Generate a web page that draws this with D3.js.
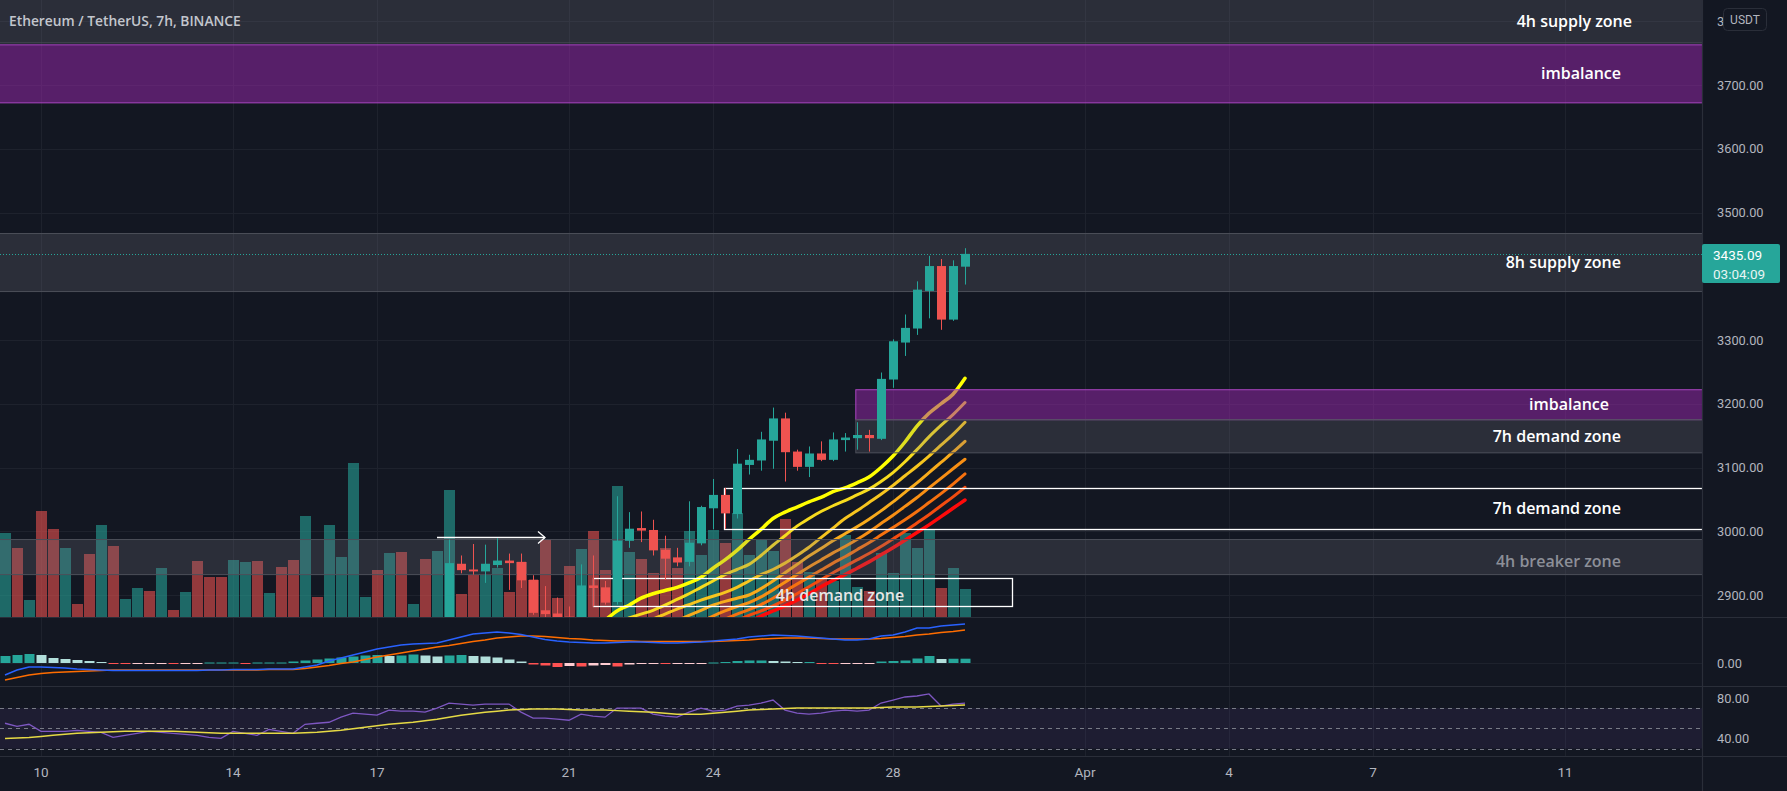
<!DOCTYPE html>
<html>
<head>
<meta charset="utf-8">
<title>ETHUSDT 7h</title>
<script src="https://cdn.jsdelivr.net/npm/d3@7"></script>
<style>
  body { margin:0; padding:0; background:#131722; overflow:hidden; }
  svg { display:block; }
  .axis text { fill:#b2b5be; font-family:Roboto, "Liberation Sans", sans-serif; font-size:12.8px; }
  .axis path, .axis line { display:none; }
  .zonelabel { font-family:"Open Sans", sans-serif; font-weight:600; font-size:16px; }
</style>
</head>
<body>
<svg id="chart" width="1787" height="791"></svg>
<script>

// ---- candles (7h) ----
var opens = [2590,2640,2610,2625,2560,2530,2570,2560,2540,2590,
  2560,2575,2590,2575,2600,2595,2610,2585,2565,2545,
  2580,2600,2585,2600,2590,2575,2640,2625,2680,2720,
  2750,2780,2760,2790,2775,2790,2770,2850,2949,2940,
  2937,2947,2954,2952,2924,2876,2871,2866,2860,2915,
  2912,2889,2985,3005,3002,2971,2959,2952,2981,3036,
  3057,3027,3104,3111,3142,3177,3125,3101,3122,3112,
  3143,3146,3151,3145,3238,3296,3318,3377,3416,3332,3415];
var highs = [2655,2660,2640,2635,2575,2580,2585,2570,2600,2598,
  2585,2600,2598,2612,2610,2620,2615,2592,2570,2590,
  2612,2605,2610,2608,2596,2652,2648,2690,2730,2762,
  2792,2790,2800,2798,2798,2796,2858,2987,2962,2980,
  2979,2989,2965,2965,2931,2914,2896,2882,2948,2962,
  2922,3055,3030,3031,3018,2993,2974,3047,3040,3082,
  3068,3129,3120,3156,3194,3186,3128,3133,3141,3155,
  3154,3171,3159,3249,3301,3340,3392,3432,3427,3425,3444];
var lows = [2580,2600,2598,2550,2515,2522,2550,2530,2535,2550,
  2552,2568,2566,2570,2588,2590,2580,2558,2536,2540,
  2575,2578,2580,2585,2568,2570,2618,2620,2672,2712,
  2745,2752,2755,2768,2770,2762,2765,2840,2934,2932,
  2919,2943,2908,2911,2869,2860,2855,2850,2855,2882,
  2885,2885,2974,2983,2962,2924,2945,2945,2978,3003,
  3004,3020,3089,3095,3098,3078,3095,3085,3110,3110,
  3125,3128,3125,3143,3225,3275,3308,3334,3316,3330,3387];
var closes = [2640,2610,2625,2560,2530,2570,2560,2540,2590,2560,
  2575,2590,2575,2600,2595,2610,2585,2565,2545,2580,
  2600,2585,2600,2590,2575,2640,2625,2680,2720,2750,
  2780,2760,2790,2775,2790,2770,2850,2950,2939,2937,
  2949,2954,2950,2923,2872,2870,2862,2860,2915,2911,
  2888,2985,3004,3001,2970,2957,2951,2982,3038,3057,
  3028,3106,3112,3144,3177,3124,3101,3122,3112,3144,
  3147,3151,3146,3239,3298,3319,3379,3416,3332,3416,3435.09];
var volumes = [84,69,17,106,88,69,13,63,92,71,
  18,29,26,49,7,25,56,40,40,57,
  55,56,24,50,57,101,20,92,60,154,
  20,47,64,65,13,58,66,127,23,42,
  42,49,25,55,37,78,19,51,68,86,
  47,131,65,58,44,69,49,86,62,87,
  74,104,62,77,66,98,55,45,38,36,
  82,30,26,64,44,84,69,88,29,49,28];

// ---- EMA ribbon, candles 44..80 ----
var ribbonStart = 44;
var ribbon1 = [2770,2785,2800,2815,2830,2845,2860,2875,2884,2895,2902,2907,2912,2919,2928,2942,2955,2970,2987,3003,3020,3030,3038,3046,3053,3062,3068,3076,3085,3100,3118,3140,3165,3185,3200,3215,3240];
var ribbon2 = [2760,2772,2784,2800,2815,2830,2843,2855,2864,2870,2876,2884,2893,2902,2912,2922,2932,2940,2948,2962,2978,2993,3008,3020,3031,3040,3048,3057,3066,3078,3092,3109,3128,3148,3166,3183,3202];
var ribbon3 = [2740,2752,2764,2776,2788,2800,2812,2824,2836,2848,2862,2870,2878,2885,2892,2898,2904,2912,2922,2932,2940,2950,2962,2975,2990,3005,3020,3032,3045,3058,3072,3087,3102,3118,3135,3152,3171];
var ribbon4 = [2725,2737,2749,2761,2773,2785,2797,2808,2819,2830,2841,2851,2860,2868,2876,2884,2890,2895,2900,2910,2922,2935,2948,2961,2973,2985,2996,3007,3019,3032,3046,3061,3076,3092,3108,3124,3141];
var ribbon5 = [2712,2723,2734,2745,2756,2767,2778,2789,2800,2810,2820,2830,2840,2849,2858,2867,2875,2882,2888,2897,2908,2920,2932,2944,2955,2966,2976,2987,2999,3012,3025,3039,3053,3068,3083,3098,3113];
var ribbon6 = [2700,2711,2722,2733,2744,2755,2765,2775,2785,2795,2805,2815,2825,2834,2843,2852,2862,2870,2877,2885,2895,2906,2917,2928,2939,2950,2960,2971,2982,2994,3006,3018,3031,3045,3059,3074,3090];
var ribbon7 = [2690,2700,2710,2720,2730,2740,2750,2760,2770,2780,2790,2800,2810,2819,2836,2844,2852,2860,2868,2875,2883,2892,2902,2913,2924,2935,2945,2955,2965,2976,2988,3000,3013,3026,3040,3054,3069];
var ribbon8 = [2680,2690,2700,2710,2720,2730,2740,2750,2760,2770,2780,2790,2800,2810,2820,2830,2842,2850,2858,2867,2875,2883,2892,2902,2913,2923,2932,2942,2952,2963,2974,2986,2998,3010,3023,3036,3049];

// ---- MACD ----
var macdLine = [-24,-14,-8,-8,-9,-10,-12,-13,-14,-15,-15,-15,-15,-15,-15,-15,-15,-14,-14,-13,
  -13,-13,-12,-12,-12,-8,-4,4,10,16,22,28,32,36,38,39,40,46,52,58,
  60,62,60,57,52,47,44,42,41,40,40,41,42,42,41,40,40,41,42,44,
  46,48,52,54,56,55,54,52,50,48,46,46,48,54,56,62,70,70,74,76,78];
var signalLine = [-34,-29,-24,-21,-19,-18,-17,-16,-15,-14,-14,-14,-14,-14,-14,-14,-14,-14,-14,-14,
  -14,-14,-13,-13,-13,-11,-8,-5,-1,2,7,12,16,20,24,28,32,35,39,43,
  46,50,52,54,54,53,51,49,48,46,45,44,44,43,43,43,43,43,43,43,
  44,45,46,48,49,50,50,50,49,48,48,48,48,49,51,53,56,58,61,63,66];
var histogram = [14,16,18,16,10,8,6,4,2,-1,-2,-2,-1,-1,-2,-1,-1,1,1,1,
  -1,1,1,1,3,5,7,9,11,13,15,16,14,15,17,15,13,15,16,14,
  13,11,7,3,-3,-5,-8,-6,-7,-5,-4,-7,-3,-2,-1,-2,-1,-1,-1,1,
  2,4,5,5,4,3,2,2,-1,-2,-2,-2,-1,3,4,5,9,14,8,8.5,8.6];

// ---- RSI ----
var rsiLine = [55,52,54,47,47,47,48,47,46,41,43,45,47,46,45,44,43,41,40,47,
  45,43,49,47,45,54,55,56,61,65,64,63,68,67,67,66,70,75,74,73,
  74,74,74,66,60,60,59,58,64,62,61,70,70,70,64,62,61,66,70,67,
  68,72,73,75,78,68,65,64,65,67,68,67,68,75,78,81,82,84,72,74,75];
var rsiMA = [40,40.5,41,42,43,44,45,45.5,46,46.5,47,47,47,47,47,46.5,46,45.5,45,45,
  45,45,45,45,45,45.5,46,47,48,49.5,51,52.5,54,55,56,57.5,59,61,63,64.5,
  66,67,68,68.5,69,69,69,68.5,68,68,68,67.5,67,66.5,66,65,64,64,64,65,
  66,67,68,68.5,69,69.5,70,70,70,70,70,70,70,70.5,71,71,71,71.5,72,72.5,73];

// ---- zones drawn on the chart ----
var zoneNames  = ['4h supply zone','imbalance','8h supply zone','imbalance','7h demand zone','7h demand zone','4h breaker zone','4h demand zone'];
var zoneTop    = [3900, 3763, 3467, 3222, 3175, 3068, 2987, 2927];
var zoneBottom = [3766, 3672, 3376, 3175, 3123, 3003.5, 2932, 2883];
var zoneFrom   = [-3, -3, -3, 70.9, 70.9, 59.9, -3, 49];
var zoneTo     = [160, 160, 160, 160, 160, 160, 160, 83.9];
var zoneKind   = ['gray','purple','gray','purple','gray','outline','breaker','outline'];

var arrowFrom = 36, arrowTo = 45, arrowPrice = 2991;
var lastPrice = 3435.09, countdown = '03:04:09';

var priceTicks = [2900,3000,3100,3200,3300,3500,3600,3700,3800];
var dateTickIdx = [3,19,31,47,59,74,90,102,114,130];
var dateTickLabels = ['10','14','17','21','24','28','Apr','4','7','11'];

// ---------------------------------------------------------------
var W = 1787, H = 791;
var paneRight = 1702;
var mainBottom = 617, macdBottom = 686, rsiBottom = 756;

var svg = d3.select('#chart');
svg.append('rect').attr('width', W).attr('height', H).attr('fill', '#131722');

var defs = svg.append('defs');
function clip(id, y0, y1) {
  defs.append('clipPath').attr('id', id).append('rect')
    .attr('x', 0).attr('y', y0).attr('width', paneRight).attr('height', y1 - y0);
}
clip('cmain', 0, mainBottom);
clip('cmacd', mainBottom, macdBottom);
clip('crsi', macdBottom, rsiBottom);

var x = d3.scaleLinear().domain([0, 80]).range([5, 965]);
var y = d3.scaleLinear().domain([3300, 3700]).range([340, 85]);
var yv = d3.scaleLinear().domain([0, 154]).range([mainBottom, 463]);
var ym = d3.scaleLinear().domain([0, 10]).range([663, 658]);
var yr = d3.scaleLinear().domain([30, 80]).range([748.5, 698]);

var idx = d3.range(opens.length);

// grid
var grid = svg.append('g');
grid.selectAll('line.v').data(dateTickIdx).enter().append('line')
  .attr('x1', function(d) {return Math.round(x(d)) + 0.5})
  .attr('x2', function(d) {return Math.round(x(d)) + 0.5})
  .attr('y1', 0).attr('y2', rsiBottom)
  .attr('stroke', '#1e222d');
grid.selectAll('line.h').data(priceTicks).enter().append('line')
  .attr('x1', 0).attr('x2', paneRight)
  .attr('y1', function(d) {return Math.round(y(d)) + 0.5})
  .attr('y2', function(d) {return Math.round(y(d)) + 0.5})
  .attr('stroke', '#1e222d');
grid.append('line').attr('x1', 0).attr('x2', paneRight)
  .attr('y1', Math.round(ym(0)) + 0.5).attr('y2', Math.round(ym(0)) + 0.5)
  .attr('stroke', '#1e222d');

// main pane
var main = svg.append('g').attr('clip-path', 'url(#cmain)');

main.selectAll('rect.vol').data(idx).enter().append('rect')
  .attr('class', 'vol')
  .attr('x', function(i) {return x(i) - 5})
  .attr('width', 11)
  .attr('y', function(i) {return yv(volumes[i])})
  .attr('height', function(i) {return mainBottom - yv(volumes[i])})
  .attr('fill', function(i) {return closes[i] >= opens[i] ? '#26a69a' : '#ef5350'})
  .attr('fill-opacity', 0.58);

var ribbons = [ribbon1, ribbon2, ribbon3, ribbon4, ribbon5, ribbon6, ribbon7, ribbon8];
var ribbonColors = ['#ffff00', '#f7dc1e', '#f7c51f', '#f8ab1c', '#f88f14', '#f6710f', '#f34c10', '#ff0a0a'];
var ribbonLine = d3.line()
  .x(function(d, k) {return x(ribbonStart + k)})
  .y(function(d) {return y(d)})
  .curve(d3.curveMonotoneX);
main.selectAll('path.ribbon').data(ribbons.slice().reverse()).enter().append('path')
  .attr('class', 'ribbon')
  .attr('d', ribbonLine)
  .attr('fill', 'none')
  .attr('stroke', function(d, k) {return ribbonColors[7 - k]})
  .attr('stroke-width', function(d, k) {return (k == 0 || k == 7) ? 3.5 : 3})
  .attr('stroke-linecap', 'round');

// filled zones
var zidx = d3.range(zoneNames.length);
main.selectAll('rect.zone').data(zidx.filter(function(k) {return zoneKind[k] != 'outline'})).enter().append('rect')
  .attr('class', 'zone')
  .attr('x', function(k) {return x(zoneFrom[k])})
  .attr('width', function(k) {return x(zoneTo[k]) - x(zoneFrom[k])})
  .attr('y', function(k) {return y(zoneTop[k])})
  .attr('height', function(k) {return y(zoneBottom[k]) - y(zoneTop[k])})
  .attr('fill', function(k) {return zoneKind[k] == 'purple' ? '#9c27b0' : '#787b86'})
  .attr('fill-opacity', function(k) {return zoneKind[k] == 'purple' ? 0.5 : 0.24})
  .attr('stroke', function(k) {return zoneKind[k] == 'purple' ? '#a945c0' : '#4c4f59'})
  .attr('stroke-width', 1);

// outlined zones
main.selectAll('rect.box').data(zidx.filter(function(k) {return zoneKind[k] == 'outline'})).enter().append('rect')
  .attr('class', 'box')
  .attr('x', function(k) {return Math.round(x(zoneFrom[k])) + 0.5})
  .attr('width', function(k) {return Math.round(x(zoneTo[k]) - x(zoneFrom[k]))})
  .attr('y', function(k) {return Math.round(y(zoneTop[k])) + 0.5})
  .attr('height', function(k) {return Math.round(y(zoneBottom[k]) - y(zoneTop[k]))})
  .attr('fill', 'none')
  .attr('stroke', '#ffffff')
  .attr('stroke-width', 1.3);

// arrow
var ay = Math.round(y(arrowPrice)) + 0.5;
main.append('line').attr('x1', x(arrowFrom)).attr('x2', x(arrowTo))
  .attr('y1', ay).attr('y2', ay).attr('stroke', '#ffffff').attr('stroke-width', 1.3);
main.append('path')
  .attr('d', 'M' + (x(arrowTo) - 7) + ',' + (ay - 6) + 'L' + x(arrowTo) + ',' + ay + 'L' + (x(arrowTo) - 7) + ',' + (ay + 6))
  .attr('fill', 'none').attr('stroke', '#ffffff').attr('stroke-width', 1.3);

// candles
var cg = main.selectAll('g.candle').data(idx).enter().append('g').attr('class', 'candle');
cg.append('rect')
  .attr('x', function(i) {return x(i)})
  .attr('width', 1)
  .attr('y', function(i) {return y(highs[i])})
  .attr('height', function(i) {return y(lows[i]) - y(highs[i])})
  .attr('fill', function(i) {return closes[i] >= opens[i] ? '#26a69a' : '#ef5350'});
cg.append('rect')
  .attr('x', function(i) {return x(i) - 4})
  .attr('width', 9)
  .attr('y', function(i) {return y(Math.max(opens[i], closes[i]))})
  .attr('height', function(i) {return Math.max(1, Math.abs(y(opens[i]) - y(closes[i])))})
  .attr('fill', function(i) {return closes[i] >= opens[i] ? '#26a69a' : '#ef5350'});

// last price dotted line
main.append('line').attr('x1', 0).attr('x2', paneRight)
  .attr('y1', Math.round(y(lastPrice)) + 0.5).attr('y2', Math.round(y(lastPrice)) + 0.5)
  .attr('stroke', '#26a69a').attr('stroke-width', 1).attr('stroke-dasharray', '1,2');

// zone labels
var labelRight = {0: 1632, 3: 1609};
main.selectAll('text.zonelabel').data(zidx).enter().append('text')
  .attr('class', 'zonelabel')
  .attr('x', function(k) {
    if (k == 7) return 840;
    return labelRight[k] || 1621;
  })
  .attr('y', function(k) {
    var t = Math.max(0, y(zoneTop[k])), b = y(zoneBottom[k]);
    var c = (t + b) / 2;
    if (zoneKind[k] == 'breaker' || k == 7) c += 4;
    return c;
  })
  .attr('dy', '0.35em')
  .attr('text-anchor', function(k) {return k == 7 ? 'middle' : 'end'})
  .attr('fill', function(k) {return zoneKind[k] == 'breaker' ? '#8c8f98' : (k == 7 ? '#e6e6e6' : '#ffffff')})
  .text(function(k) {return zoneNames[k]});

// title
svg.append('text').attr('x', 9).attr('y', 21).attr('dy', '0.35em')
  .attr('fill', '#c3c6cd')
  .style('font-family', '"Open Sans", sans-serif').style('font-weight', 600).style('font-size', '13.8px')
  .text('Ethereum / TetherUS, 7h, BINANCE');

// MACD pane
var macd = svg.append('g').attr('clip-path', 'url(#cmacd)');
macd.selectAll('rect.hist').data(idx).enter().append('rect')
  .attr('x', function(i) {return x(i) - 4.5})
  .attr('width', 10)
  .attr('y', function(i) {return Math.min(ym(histogram[i]), ym(0))})
  .attr('height', function(i) {return Math.max(1, Math.abs(ym(histogram[i]) - ym(0)))})
  .attr('fill', function(i) {
    var h = histogram[i], p = i > 0 ? histogram[i - 1] : h;
    if (h >= 0) return h >= p ? '#26a69a' : '#b2dfdb';
    return h < p ? '#ff5252' : '#ffcdd2';
  });
var mline = d3.line().x(function(d, i) {return x(i)}).y(function(d) {return ym(d)});
macd.append('path').attr('d', mline(signalLine)).attr('fill', 'none').attr('stroke', '#ff6d00').attr('stroke-width', 1.5);
macd.append('path').attr('d', mline(macdLine)).attr('fill', 'none').attr('stroke', '#2962ff').attr('stroke-width', 1.5);

// RSI pane
var rsi = svg.append('g').attr('clip-path', 'url(#crsi)');
rsi.append('rect').attr('x', 0).attr('width', paneRight)
  .attr('y', yr(70)).attr('height', yr(30) - yr(70))
  .attr('fill', '#7e57c2').attr('fill-opacity', 0.1);
rsi.selectAll('line.band').data([70, 50, 30]).enter().append('line')
  .attr('x1', 0).attr('x2', paneRight)
  .attr('y1', function(d) {return Math.round(yr(d)) + 0.5})
  .attr('y2', function(d) {return Math.round(yr(d)) + 0.5})
  .attr('stroke', '#787b86').attr('stroke-dasharray', '4,4');
var rline = d3.line().x(function(d, i) {return x(i)}).y(function(d) {return yr(d)});
rsi.append('path').attr('d', rline(rsiLine)).attr('fill', 'none').attr('stroke', '#7e57c2').attr('stroke-width', 1.3);
rsi.append('path').attr('d', rline(rsiMA)).attr('fill', 'none').attr('stroke', '#e6da45').attr('stroke-width', 1.5);

// separators
[mainBottom, macdBottom, rsiBottom].forEach(function(v) {
  svg.append('line').attr('x1', 0).attr('x2', W).attr('y1', v + 0.5).attr('y2', v + 0.5)
    .attr('stroke', '#2a2e39').attr('stroke-width', 1.2);
});
svg.append('line').attr('x1', paneRight + 0.5).attr('x2', paneRight + 0.5).attr('y1', 0).attr('y2', H)
  .attr('stroke', '#2a2e39').attr('stroke-width', 1.2);

// price axes
var axisX = paneRight + 12;
svg.append('g').attr('class', 'axis').attr('transform', 'translate(' + axisX + ',0)')
  .call(d3.axisRight(y).tickValues(priceTicks).tickFormat(d3.format('.2f')).tickSize(0));
svg.append('g').attr('class', 'axis').attr('transform', 'translate(' + axisX + ',0)')
  .call(d3.axisRight(ym).tickValues([0]).tickFormat(d3.format('.2f')).tickSize(0));
svg.append('g').attr('class', 'axis').attr('transform', 'translate(' + axisX + ',0)')
  .call(d3.axisRight(yr).tickValues([80, 40]).tickFormat(d3.format('.2f')).tickSize(0));

// time axis
svg.selectAll('text.date').data(dateTickIdx).enter().append('text')
  .attr('x', function(d) {return x(d)})
  .attr('y', 772).attr('dy', '0.35em')
  .attr('text-anchor', 'middle')
  .attr('fill', '#b2b5be')
  .style('font-family', 'Roboto, "Liberation Sans", sans-serif').style('font-size', '13.5px')
  .text(function(d, k) {return dateTickLabels[k]});

// USDT badge
svg.append('rect').attr('x', 1723.5).attr('y', 8.5).attr('width', 43).attr('height', 22).attr('rx', 4)
  .attr('fill', '#131722').attr('stroke', '#2a2e39');
svg.append('text').attr('x', 1745).attr('y', 19.5).attr('dy', '0.35em').attr('text-anchor', 'middle')
  .attr('fill', '#b2b5be').style('font-family', 'Roboto, sans-serif').style('font-size', '12px').text('USDT');

// last price label
var ly = y(lastPrice);
svg.append('rect').attr('x', paneRight).attr('y', ly - 10).attr('width', 78).attr('height', 39)
  .attr('rx', 2).attr('fill', '#26a69a');
svg.append('text').attr('x', paneRight + 11).attr('y', ly + 1).attr('dy', '0.35em')
  .attr('fill', '#ffffff').style('font-family', 'Roboto, "Liberation Sans", sans-serif').style('font-size', '13.5px')
  .text(d3.format('.2f')(lastPrice));
svg.append('text').attr('x', paneRight + 11).attr('y', ly + 20).attr('dy', '0.35em')
  .attr('fill', '#e8f5f3').style('font-family', 'Roboto, "Liberation Sans", sans-serif').style('font-size', '13.5px')
  .text(countdown);

</script>
</body>
</html>
